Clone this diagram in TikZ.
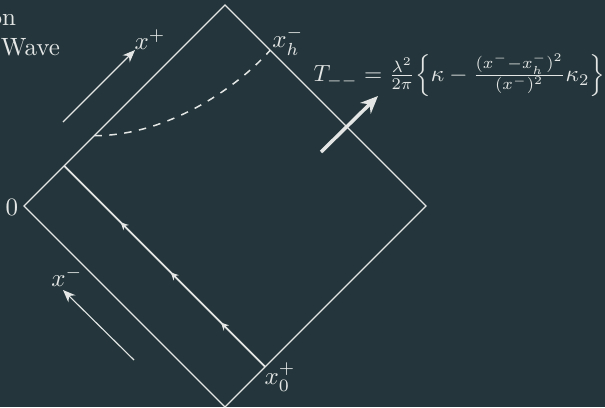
\documentclass[tikz,border=0pt]{standalone}
\usepackage{amsmath}
\usepackage{tikz}
\usetikzlibrary{arrows.meta,calc,decorations.markings}
\definecolor{bgdark}{RGB}{36,54,59}
\definecolor{chalk}{RGB}{228,230,230}

\begin{document}
\begin{tikzpicture}[
    x=0.4pt, y=-0.4pt,
    edge/.style={draw=chalk, line width=0.45pt},
    flow/.style={draw=chalk, line width=0.75pt, postaction={decorate},
      decoration={markings, mark=between positions 0.22 and 0.75 step 0.25 with {\arrow{Stealth[length=3pt,width=3pt]}}}},
    dirarr/.style={draw=chalk, line width=0.45pt, -{Stealth[length=5pt,width=4pt]}},
    lbl/.style={text=chalk, inner sep=1pt}
  ]
    \fill[bgdark] (0,0) rectangle (605,407);
    \useasboundingbox (0,0) rectangle (605,407);
    \coordinate (L) at (24,206);
    \coordinate (T) at (225,5);
    \coordinate (R) at (426,206);
    \coordinate (B) at (225,407);
    \coordinate (in1) at ($(L)!0.2!(T)$);
    \coordinate (in0) at ($(B)!0.2!(R)$);
    \coordinate (sh0) at ($(L)!0.35!(T)$);
    \coordinate (sh1) at ($(T)!0.225!(R)$);
    \draw[edge] (L) -- (T) -- (R) -- (B) -- cycle;
    \draw[flow] (in0) -- (in1);
    \draw[draw=chalk, line width=0.6pt, dashed] (sh0) .. controls (160,136) and (230,95) .. (sh1);
    \node[lbl, anchor=base east] (capa) at (19,25) {on};
    \node[lbl, anchor=base east] (capb) at (63,55) {Wave};
    \node[lbl] (origin) at (12,207) {$0$};
    \node[lbl] (xzero) at (280,377) {$x_0^+$};
    \node[lbl] (xh) at (288,41) {$x_h^-$};
    \node[lbl] (xp) at (150,40) {$x^+$};
    \node[lbl] (xm) at (67,277) {$x^-$};
    \coordinate (xpfrom) at (63,122);
    \coordinate (xpto) at (135,50);
    \coordinate (xmfrom) at (134,360);
    \coordinate (xmto) at (63,290);
    \draw[dirarr] (xpfrom) -- (xpto);
    \draw[dirarr] (xmfrom) -- (xmto);
    \node[lbl, anchor=east, scale=0.935] (stress) at (608,75) {$T_{--}=\frac{\lambda^2}{2\pi}\Bigl\{\kappa-\frac{(x^- -x_h^-)^2}{(x^-)^2}\kappa_2\Bigr\}$};
    \coordinate (pushfrom) at (321,152);
    \coordinate (pushto) at (378,96);
    \draw[draw=chalk, line width=1.4pt, -{Stealth[length=7pt,width=6pt]}] (pushfrom) -- (pushto);
  \end{tikzpicture}
\end{document}
